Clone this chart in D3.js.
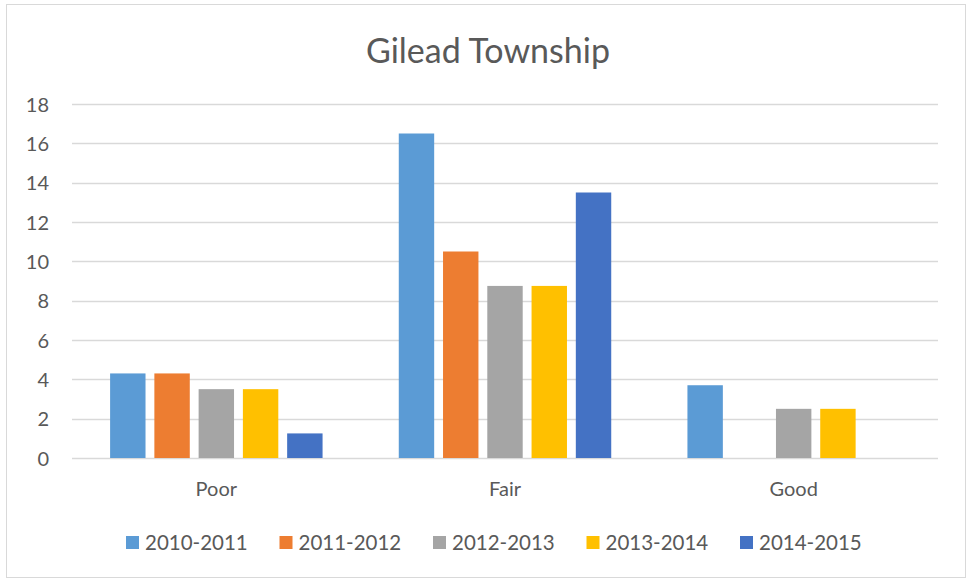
<!DOCTYPE html>
<html>
<head>
<meta charset="utf-8">
<script src="https://cdn.jsdelivr.net/npm/d3@7"></script>
<style>
  body { margin: 0; background: #fff; }
  text { font-family: Lato, "Open Sans", sans-serif; fill: #595959; }
</style>
</head>
<body>
<div id="chart-container"></div>
<script>
const categories = ["Poor", "Fair", "Good"];
const seasons = ["2010-2011", "2011-2012", "2012-2013", "2013-2014", "2014-2015"];
const colors = ["#5B9BD5", "#ED7D31", "#A5A5A5", "#FFC000", "#4472C4"];

// values per season, in category order (Poor, Fair, Good)
const s2010 = [4.3, 16.5, 3.7];
const s2011 = [4.3, 10.5, 0];
const s2012 = [3.5, 8.75, 2.5];
const s2013 = [3.5, 8.75, 2.5];
const s2014 = [1.25, 13.5, 0];
const seriesValues = [s2010, s2011, s2012, s2013, s2014];

const yTicks = [0, 2, 4, 6, 8, 10, 12, 14, 16, 18];

const W = 968, H = 581;
const plot = { left: 72, right: 938, top: 104, bottom: 458 };

const svg = d3.select("#chart-container")
  .append("svg")
  .attr("width", W)
  .attr("height", H);

// chart frame
svg.append("rect")
  .attr("x", 6.5).attr("y", 4.5)
  .attr("width", 959).attr("height", 573)
  .attr("fill", "#fff")
  .attr("stroke", "#d9d9d9");

svg.append("text")
  .attr("x", 488).attr("y", 63)
  .attr("text-anchor", "middle")
  .style("font-size", "34px")
  .text("Gilead Township");

const y = d3.scaleLinear().domain([0, 18]).range([plot.bottom, plot.top]);

const x0 = d3.scaleBand()
  .domain(categories)
  .range([plot.left, plot.right])
  .paddingInner(0.264)
  .paddingOuter(0.132);

const x1 = d3.scaleBand()
  .domain(seasons)
  .range([0, x0.bandwidth()])
  .paddingInner(0.2);

// gridlines
svg.append("g")
  .selectAll("line")
  .data(yTicks)
  .join("line")
  .attr("x1", plot.left).attr("x2", plot.right)
  .attr("y1", d => Math.round(y(d)) + 0.5)
  .attr("y2", d => Math.round(y(d)) + 0.5)
  .attr("stroke", "#d9d9d9")
  .attr("stroke-width", 1.3);

// y axis labels
const yAxis = svg.append("g")
  .attr("transform", `translate(${plot.left - 23},0)`)
  .call(d3.axisLeft(y).tickValues(yTicks).tickSize(0).tickPadding(0));
yAxis.select(".domain").remove();
yAxis.selectAll("text")
  .style("font-size", "20px")
  .attr("dy", "0.35em")
  .attr("fill", "#595959");

// bars
const groups = svg.append("g")
  .selectAll("g")
  .data(categories)
  .join("g")
  .attr("transform", d => `translate(${x0(d)},0)`);

groups.selectAll("rect")
  .data((c, ci) => seasons.map((s, si) => ({ s, si, v: seriesValues[si][ci] })))
  .join("rect")
  .filter(d => d.v > 0)
  .attr("x", d => x1(d.s))
  .attr("y", d => y(d.v))
  .attr("width", x1.bandwidth())
  .attr("height", d => y(0) - y(d.v))
  .attr("fill", d => colors[d.si]);

// category axis
const xAxis = svg.append("g")
  .attr("transform", `translate(0,${plot.bottom})`)
  .call(d3.axisBottom(x0).tickSize(0).tickPadding(24));
xAxis.select(".domain").remove();
xAxis.selectAll("text")
  .style("font-size", "20px")
  .attr("fill", "#595959");

// legend
const legend = svg.append("g")
  .attr("transform", "translate(126,536)");

seasons.forEach((key, i) => {
  const item = legend.append("g")
    .attr("transform", `translate(${i * 153.5},0)`);
  item.append("rect")
    .attr("width", 13)
    .attr("height", 13)
    .attr("fill", colors[i]);
  item.append("text")
    .text(key)
    .attr("x", 19)
    .attr("y", 14)
    .style("font-size", "20.5px");
});
</script>
</body>
</html>
